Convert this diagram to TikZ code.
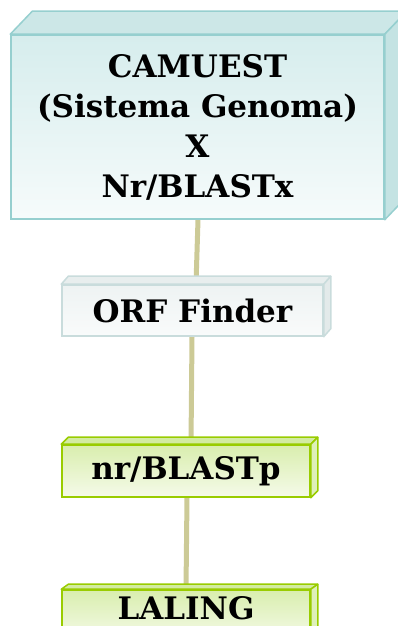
\documentclass[tikz,border=0pt]{standalone}
\usepackage{fontspec}
\setmainfont{DejaVu Serif}
\usetikzlibrary{backgrounds,calc}
\definecolor{tealB}{HTML}{96CFCF}
\definecolor{tealT}{HTML}{D6EDED}
\definecolor{tealW}{HTML}{F6FBFB}
\definecolor{tealTop}{HTML}{CCE7E7}
\definecolor{tealSide}{HTML}{C4E3E3}
\definecolor{greyB}{HTML}{C9DCDC}
\definecolor{greyT}{HTML}{EEF3F3}
\definecolor{greyW}{HTML}{F9FBFB}
\definecolor{greyTop}{HTML}{E8EEEE}
\definecolor{greySide}{HTML}{E3EAEA}
\definecolor{grnB}{HTML}{99CC00}
\definecolor{grnT}{HTML}{D9EEAE}
\definecolor{grnW}{HTML}{F5FAE9}
\definecolor{grnTop}{HTML}{D3EBA2}
\definecolor{grnSide}{HTML}{DEF0BA}
\definecolor{conn}{HTML}{CCCA96}
\tikzset{
  x=1pt, y=1pt,
  boxtext/.style={inner sep=0pt, align=center, font=\bfseries\fontsize{31}{40}\selectfont},
  tealbox/.style={boxtext, draw=tealB, line width=1.5pt, top color=tealT, bottom color=tealW},
  greybox/.style={boxtext, draw=greyB, line width=1.5pt, top color=greyT, bottom color=greyW},
  grnbox/.style={boxtext, draw=grnB, line width=1.5pt, top color=grnT, bottom color=grnW},
  connector/.style={draw=conn, line width=5pt}
}
\newcommand{\depthfaces}[5]{% node, dx, dy, border, fill prefix
  \filldraw[draw=#4, fill=#5Top, line width=1.5pt, line join=round]
    (#1.north west) -- ++(#2,#3) -- ($(#1.north east)+(#2,#3)$) -- (#1.north east) -- cycle;
  \filldraw[draw=#4, fill=#5Side, line width=1.5pt, line join=round]
    (#1.north east) -- ++(#2,#3) -- ($(#1.south east)+(#2,#3)$) -- (#1.south east) -- cycle;
}
\begin{document}
\begin{tikzpicture}
\useasboundingbox (0,0) rectangle (398,626);
\node[tealbox, minimum width=373, minimum height=184] (camuest) at (197.5,499)
  {CAMUEST\\(Sistema Genoma)\\X\\Nr/BLASTx};
\node[greybox, minimum width=261, minimum height=51] (orf) at (192.5,315.5) {ORF Finder};
\node[grnbox, minimum width=248, minimum height=52] (blastp) at (186,155) {nr/BLASTp};
\node[grnbox, minimum width=248, minimum height=51, text height=24pt, text depth=15pt] (laling) at (186,10.5) {LALING};
\depthfaces{camuest}{22}{23}{tealB}{teal}
\depthfaces{orf}{7}{8}{greyB}{grey}
\depthfaces{blastp}{7}{7}{grnB}{grn}
\depthfaces{laling}{7}{5}{grnB}{grn}
\begin{pgfonlayer}{background}
\draw[connector] (camuest.south -| 198,0) -- (orf.north -| 196,0);
\draw[connector] (orf.south -| 192,0) -- (blastp.north -| 191,0);
\draw[connector] (blastp.south -| 187,0) -- (laling.north -| 186,0);
\end{pgfonlayer}
\end{tikzpicture}
\end{document}
